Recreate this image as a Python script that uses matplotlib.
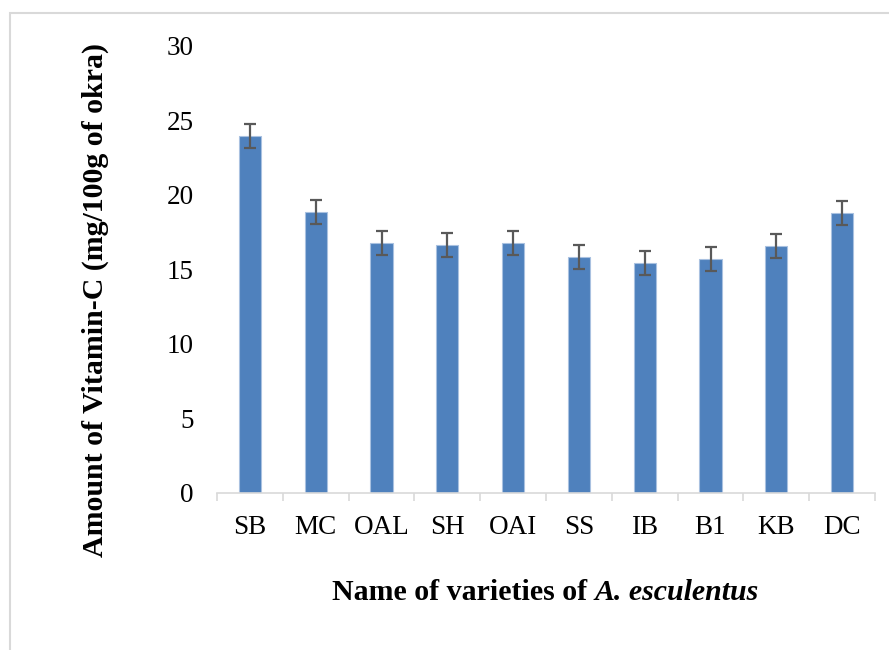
import matplotlib
matplotlib.use("Agg")
import matplotlib.pyplot as plt
from matplotlib.patches import Rectangle
from matplotlib.offsetbox import TextArea, HPacker, AnnotationBbox
import numpy as np

categories = ["SB", "MC", "OAL", "SH", "OAI", "SS", "IB", "B1", "KB", "DC"]
values = [23.93, 18.85, 16.73, 16.6, 16.73, 15.79, 15.39, 15.66, 16.57, 18.74]
errors = [0.8, 0.8, 0.8, 0.8, 0.8, 0.8, 0.8, 0.8, 0.8, 0.8]
yticks = [0, 5, 10, 15, 20, 25, 30]

SERIF = "Liberation Serif"

fig = plt.figure(figsize=(8.89, 6.5), dpi=100)
ax = fig.add_axes([217/889, 1-492.7/650, (875-217)/889, (492.7-45.5)/650])

x = np.arange(len(categories))
ax.bar(x, values, width=0.335, color="#4F81BD", edgecolor="#a9c1e0", linewidth=0.8, zorder=2)
ax.errorbar(x, values, yerr=errors, fmt="none", ecolor="#595959", elinewidth=1.6,
            capsize=4.5, capthick=1.6, zorder=3)

ax.set_xlim(-0.5, len(categories) - 0.5)
ax.set_ylim(0, 30)
ax.set_yticks(yticks)
ax.set_yticklabels([str(v) for v in yticks], fontfamily=SERIF, fontsize=19.5)
ax.tick_params(axis="y", length=0, pad=17)

ax.set_xticks(np.arange(len(categories) + 1) - 0.5)
ax.set_xticklabels([])
ax.tick_params(axis="x", which="major", length=6, width=1.2, color="#d9d9d9", direction="out")
ax.set_xticks(x, minor=True)
ax.set_xticklabels(categories, minor=True, fontfamily=SERIF, fontsize=19.5)
ax.tick_params(axis="x", which="minor", length=0, pad=16)

for s in ["top", "right", "left"]:
    ax.spines[s].set_visible(False)
ax.spines["bottom"].set_color("#d9d9d9")
ax.spines["bottom"].set_linewidth(1.2)

# y label
fig.text(95/889, 1-300/650, "Amount of Vitamin-C (mg/100g of okra)", rotation=90,
         ha="center", va="center", fontfamily=SERIF, fontweight="bold", fontsize=21.5)

# x label with italic part
t1 = TextArea("Name of varieties of ", textprops=dict(fontfamily=SERIF, fontweight="bold", fontsize=21.5))
t2 = TextArea("A. esculentus", textprops=dict(fontfamily=SERIF, fontweight="bold", fontstyle="italic", fontsize=21.5))
box = HPacker(children=[t1, t2], align="baseline", pad=0, sep=0)
ab = AnnotationBbox(box, (545/889, 1-593/650), xycoords="figure fraction", frameon=False,
                    box_alignment=(0.5, 0.5))
fig.add_artist(ab)

# outer border
fig.add_artist(Rectangle((10/889, -0.05), 1.2, 1-13/650+0.05, transform=fig.transFigure,
                         fill=False, edgecolor="#d9d9d9", linewidth=1.5))

fig.savefig("out.png", dpi=100)
